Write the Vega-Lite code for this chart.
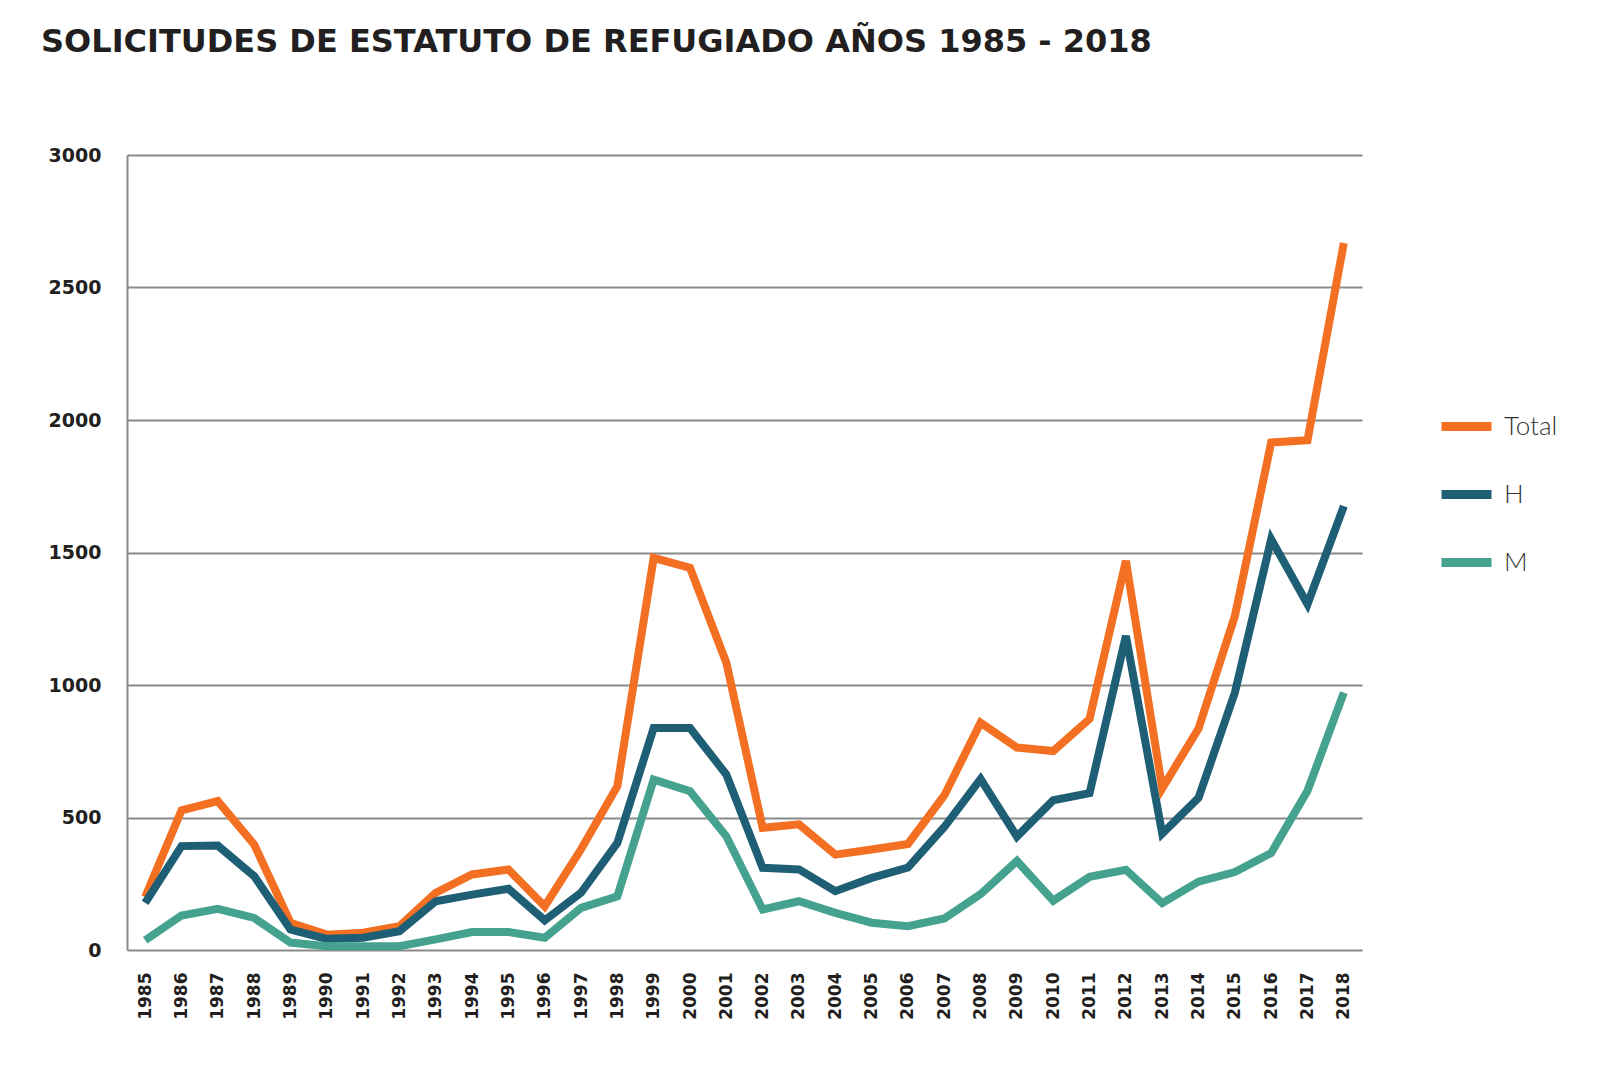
{
  "$schema": "https://vega.github.io/schema/vega-lite/v6.json",
  "width": 1235,
  "height": 795,
  "autosize": {"type": "none"},
  "padding": {"left": 127, "top": 155, "right": 238, "bottom": 122},
  "background": "white",
  "title": {
    "text": "SOLICITUDES DE ESTATUTO DE REFUGIADO AÑOS 1985 - 2018",
    "anchor": "start",
    "frame": "group",
    "dx": -86,
    "offset": 62,
    "baseline": "alphabetic",
    "font": "DejaVu Sans",
    "fontSize": 32,
    "fontWeight": "bold",
    "color": "#231f20"
  },
  "config": {
    "view": {"stroke": null},
    "axis": {"labelColor": "#231f20", "titleColor": "#231f20"}
  },
  "datasets": {
    "d": [
      {"year": "1985", "serie": "Total", "value": 200},
      {"year": "1986", "serie": "Total", "value": 527},
      {"year": "1987", "serie": "Total", "value": 562},
      {"year": "1988", "serie": "Total", "value": 398},
      {"year": "1989", "serie": "Total", "value": 103},
      {"year": "1990", "serie": "Total", "value": 58},
      {"year": "1991", "serie": "Total", "value": 65},
      {"year": "1992", "serie": "Total", "value": 90},
      {"year": "1993", "serie": "Total", "value": 216},
      {"year": "1994", "serie": "Total", "value": 285},
      {"year": "1995", "serie": "Total", "value": 304},
      {"year": "1996", "serie": "Total", "value": 165},
      {"year": "1997", "serie": "Total", "value": 380},
      {"year": "1998", "serie": "Total", "value": 618},
      {"year": "1999", "serie": "Total", "value": 1480},
      {"year": "2000", "serie": "Total", "value": 1442},
      {"year": "2001", "serie": "Total", "value": 1084},
      {"year": "2002", "serie": "Total", "value": 461},
      {"year": "2003", "serie": "Total", "value": 474},
      {"year": "2004", "serie": "Total", "value": 360},
      {"year": "2005", "serie": "Total", "value": 379},
      {"year": "2006", "serie": "Total", "value": 400},
      {"year": "2007", "serie": "Total", "value": 583},
      {"year": "2008", "serie": "Total", "value": 858},
      {"year": "2009", "serie": "Total", "value": 764},
      {"year": "2010", "serie": "Total", "value": 751},
      {"year": "2011", "serie": "Total", "value": 872},
      {"year": "2012", "serie": "Total", "value": 1468},
      {"year": "2013", "serie": "Total", "value": 610},
      {"year": "2014", "serie": "Total", "value": 836},
      {"year": "2015", "serie": "Total", "value": 1260},
      {"year": "2016", "serie": "Total", "value": 1915},
      {"year": "2017", "serie": "Total", "value": 1924},
      {"year": "2018", "serie": "Total", "value": 2668},
      {"year": "1985", "serie": "H", "value": 178},
      {"year": "1986", "serie": "H", "value": 392},
      {"year": "1987", "serie": "H", "value": 394},
      {"year": "1988", "serie": "H", "value": 279},
      {"year": "1989", "serie": "H", "value": 77},
      {"year": "1990", "serie": "H", "value": 42},
      {"year": "1991", "serie": "H", "value": 46},
      {"year": "1992", "serie": "H", "value": 71},
      {"year": "1993", "serie": "H", "value": 184},
      {"year": "1994", "serie": "H", "value": 209},
      {"year": "1995", "serie": "H", "value": 231},
      {"year": "1996", "serie": "H", "value": 112},
      {"year": "1997", "serie": "H", "value": 216},
      {"year": "1998", "serie": "H", "value": 404},
      {"year": "1999", "serie": "H", "value": 838},
      {"year": "2000", "serie": "H", "value": 838},
      {"year": "2001", "serie": "H", "value": 662},
      {"year": "2002", "serie": "H", "value": 310},
      {"year": "2003", "serie": "H", "value": 304},
      {"year": "2004", "serie": "H", "value": 222},
      {"year": "2005", "serie": "H", "value": 272},
      {"year": "2006", "serie": "H", "value": 311},
      {"year": "2007", "serie": "H", "value": 464},
      {"year": "2008", "serie": "H", "value": 645},
      {"year": "2009", "serie": "H", "value": 428},
      {"year": "2010", "serie": "H", "value": 565},
      {"year": "2011", "serie": "H", "value": 592},
      {"year": "2012", "serie": "H", "value": 1185},
      {"year": "2013", "serie": "H", "value": 439},
      {"year": "2014", "serie": "H", "value": 574},
      {"year": "2015", "serie": "H", "value": 971},
      {"year": "2016", "serie": "H", "value": 1550},
      {"year": "2017", "serie": "H", "value": 1305},
      {"year": "2018", "serie": "H", "value": 1675},
      {"year": "1985", "serie": "M", "value": 37},
      {"year": "1986", "serie": "M", "value": 130},
      {"year": "1987", "serie": "M", "value": 155},
      {"year": "1988", "serie": "M", "value": 121},
      {"year": "1989", "serie": "M", "value": 28},
      {"year": "1990", "serie": "M", "value": 14},
      {"year": "1991", "serie": "M", "value": 14},
      {"year": "1992", "serie": "M", "value": 14},
      {"year": "1993", "serie": "M", "value": 40},
      {"year": "1994", "serie": "M", "value": 68},
      {"year": "1995", "serie": "M", "value": 68},
      {"year": "1996", "serie": "M", "value": 46},
      {"year": "1997", "serie": "M", "value": 159},
      {"year": "1998", "serie": "M", "value": 203},
      {"year": "1999", "serie": "M", "value": 643},
      {"year": "2000", "serie": "M", "value": 599},
      {"year": "2001", "serie": "M", "value": 429},
      {"year": "2002", "serie": "M", "value": 153},
      {"year": "2003", "serie": "M", "value": 184},
      {"year": "2004", "serie": "M", "value": 140},
      {"year": "2005", "serie": "M", "value": 103},
      {"year": "2006", "serie": "M", "value": 90},
      {"year": "2007", "serie": "M", "value": 119},
      {"year": "2008", "serie": "M", "value": 211},
      {"year": "2009", "serie": "M", "value": 336},
      {"year": "2010", "serie": "M", "value": 186},
      {"year": "2011", "serie": "M", "value": 276},
      {"year": "2012", "serie": "M", "value": 303},
      {"year": "2013", "serie": "M", "value": 177},
      {"year": "2014", "serie": "M", "value": 258},
      {"year": "2015", "serie": "M", "value": 294},
      {"year": "2016", "serie": "M", "value": 366},
      {"year": "2017", "serie": "M", "value": 601},
      {"year": "2018", "serie": "M", "value": 971}
    ]
  },
  "data": {"name": "d"},
  "encoding": {
    "x": {
      "field": "year",
      "type": "ordinal",
      "sort": null,
      "scale": {"type": "point", "padding": 0.5},
      "axis": {
        "title": null,
        "labelAngle": -90,
        "labelAlign": "right",
        "labelBaseline": "middle",
        "labelPadding": 22,
        "labelFont": "DejaVu Sans",
        "labelFontWeight": "bold",
        "labelFontSize": 17,
        "domain": false,
        "ticks": false,
        "grid": false
      }
    },
    "y": {
      "field": "value",
      "type": "quantitative",
      "scale": {"domain": [0, 3000], "nice": false},
      "axis": {
        "title": null,
        "format": "d",
        "values": [0, 500, 1000, 1500, 2000, 2500, 3000],
        "grid": true,
        "gridColor": "#8a8a8a",
        "gridWidth": 2,
        "gridOpacity": 1,
        "domain": true,
        "domainColor": "#8a8a8a",
        "domainWidth": 2,
        "ticks": false,
        "labelPadding": 26,
        "labelFont": "DejaVu Sans",
        "labelFontWeight": "bold",
        "labelFontSize": 19
      }
    },
    "color": {
      "field": "serie",
      "type": "nominal",
      "scale": {"domain": ["Total", "H", "M"], "range": ["#F36F21", "#1F5F75", "#45A28E"]},
      "legend": {
        "title": null,
        "orient": "none",
        "legendX": 1310,
        "legendY": 242,
        "symbolType": "stroke",
        "symbolSize": 2500,
        "symbolStrokeWidth": 9,
        "rowPadding": 20,
        "labelOffset": 8,
        "labelFont": "Lato",
        "labelFontSize": 26,
        "labelFontWeight": 300,
        "labelColor": "#333333"
      }
    }
  },
  "layer": [
    {
      "transform": [{"filter": "datum.serie === 'Total'"}],
      "mark": {"type": "line", "strokeWidth": 8, "strokeJoin": "miter"}
    },
    {
      "transform": [{"filter": "datum.serie === 'H'"}],
      "mark": {"type": "line", "strokeWidth": 8, "strokeJoin": "miter"}
    },
    {
      "transform": [{"filter": "datum.serie === 'M'"}],
      "mark": {"type": "line", "strokeWidth": 8, "strokeJoin": "miter"}
    }
  ]
}
